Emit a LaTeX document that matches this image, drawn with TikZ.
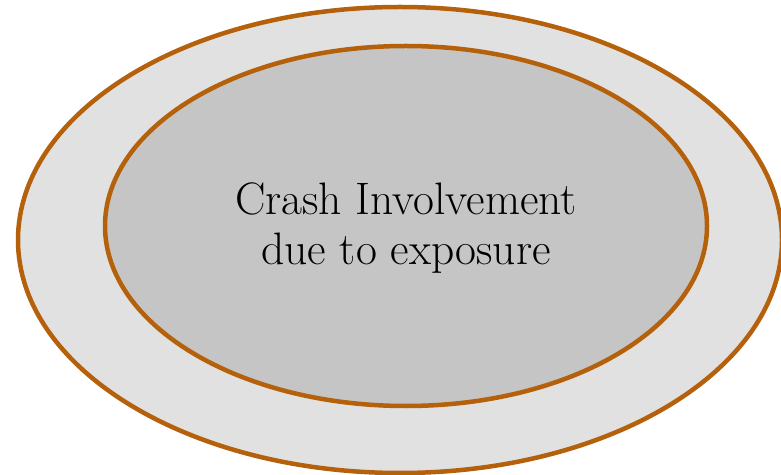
\documentclass[tikz,border=0pt]{standalone}
\usetikzlibrary{shapes.geometric}
\definecolor{ringbrown}{HTML}{B5600A}
\definecolor{outerfill}{HTML}{E1E1E1}
\definecolor{innerfill}{HTML}{C5C5C5}
\begin{document}
\begin{tikzpicture}[x=1pt,y=1pt,
  ring/.style={draw=ringbrown,line width=4.5pt},
  lbl/.style={anchor=base,inner sep=0pt,font=\fontsize{45.5}{50}\selectfont}]
\useasboundingbox (0,0) rectangle (781,474);
\fill[white] (0,0) rectangle (781,474);
\draw[ring,fill=outerfill] (400,234) ellipse [x radius=382, y radius=233];
\draw[ring,fill=innerfill] (406,248) ellipse [x radius=301, y radius=180];
\node[lbl] (t1) at (406,259) {Crash Involvement};
\node[lbl] (t2) at (406,209) {due to exposure};
\end{tikzpicture}
\end{document}
